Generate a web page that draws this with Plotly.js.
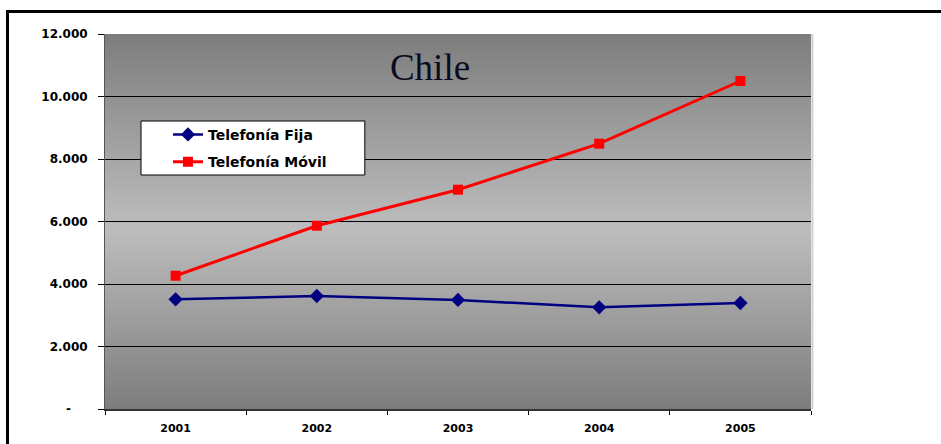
<!DOCTYPE html>
<html>
<head>
<meta charset="utf-8">
<script src="https://cdn.plot.ly/plotly-3.0.1.min.js"></script>
<style>
html,body{margin:0;padding:0;background:#fff;}
#wrap{position:relative;width:941px;height:444px;overflow:hidden;}
#chart{position:absolute;left:0;top:0;width:941px;height:444px;}
#frame{position:absolute;left:6px;top:10px;width:960px;height:460px;border:3px solid #000;pointer-events:none;box-sizing:border-box;}
</style>
</head>
<body>
<div id="wrap"><div id="chart"></div><div id="frame"></div></div>
<script>
const years = ['2001', '2002', '2003', '2004', '2005'];
const fija = [3510, 3616, 3490, 3254, 3392];
const movil = [4265, 5865, 7018, 8490, 10496];
const yTickVals = [0, 2000, 4000, 6000, 8000, 10000, 12000];
const yTickText = ['-\u00a0\u00a0\u00a0\u00a0', '2.000', '4.000', '6.000', '8.000', '10.000', '12.000'];

const gradSvg = '<svg xmlns="http://www.w3.org/2000/svg" width="100" height="100" preserveAspectRatio="none">' +
  '<defs><linearGradient id="g" x1="0" y1="0" x2="0" y2="1">' +
  '<stop offset="0" stop-color="#7d7d7d"/><stop offset="0.52" stop-color="#bdbdbd"/><stop offset="1" stop-color="#7d7d7d"/>' +
  '</linearGradient></defs><rect width="100" height="100" fill="url(#g)"/></svg>';
const gradUri = 'data:image/svg+xml;charset=utf-8,' + encodeURIComponent(gradSvg);

const traces = [
  {x: years, y: fija, name: 'Telefonía Fija', type: 'scatter', mode: 'lines+markers',
   legendgroup: 'a',
   line: {color: '#000080', width: 2.5}, marker: {symbol: 'diamond', size: 11, color: '#000080'}},
  {x: years, y: movil, name: 'Telefonía Móvil', type: 'scatter', mode: 'lines+markers',
   legendgroup: 'b',
   line: {color: '#ff0000', width: 3}, marker: {symbol: 'square', size: 10, color: '#ff0000'}}
];

const layout = {
  width: 941, height: 444,
  margin: {l: 105, r: 130, t: 34, b: 35},
  paper_bgcolor: '#ffffff',
  plot_bgcolor: 'rgba(0,0,0,0)',
  font: {family: 'DejaVu Sans, Liberation Sans, Arial, sans-serif', color: '#000'},
  title: {text: 'Chile', xref: 'container', yref: 'container', x: 0.457, y: 0.849,
          xanchor: 'center', yanchor: 'middle',
          font: {family: 'Liberation Serif, Times New Roman, serif', size: 37, color: '#0b0b1e'}},
  images: [{source: gradUri, xref: 'paper', yref: 'paper', x: 0, y: 1, sizex: 1, sizey: 1,
            sizing: 'stretch', layer: 'below', xanchor: 'left', yanchor: 'top'}],
  xaxis: {type: 'category', range: [-0.5, 4.5], tickson: 'boundaries', ticks: 'outside', ticklen: 4,
          tickcolor: '#000', showgrid: false, showline: true, linecolor: '#333', linewidth: 1.5,
          ticklabelstandoff: 8,
          tickfont: {size: 11, weight: 'bold'}, fixedrange: true, zeroline: false},
  yaxis: {range: [0, 12000], tickvals: yTickVals, ticktext: yTickText, ticks: 'outside', ticklen: 6,
          tickcolor: '#000', showgrid: true, gridcolor: '#000', gridwidth: 1, zeroline: false,
          showline: true, linecolor: '#555', linewidth: 1, ticklabelstandoff: 8,
          tickfont: {size: 12, weight: 'bold'}, fixedrange: true},
  showlegend: true,
  legend: {x: 0.0892, y: 0.7737, xanchor: 'left', yanchor: 'top', bgcolor: 'rgba(0,0,0,0)',
           borderwidth: 0, font: {size: 14, weight: 'bold', color: '#000'},
           traceorder: 'grouped', tracegroupgap: 6},
  shapes: [
    {type: 'rect', xref: 'paper', yref: 'paper', x0: 0.051, x1: 0.368, y0: 0.624, y1: 0.768,
     fillcolor: '#ffffff', line: {color: '#000', width: 1}, layer: 'above'},
    {type: 'line', xref: 'paper', yref: 'paper', x0: 1.002, x1: 1.002, y0: 0, y1: 1,
     line: {color: '#d0d0d0', width: 2}}]
};

Plotly.newPlot('chart', traces, layout, {displayModeBar: false, staticPlot: true});
</script>
</body>
</html>
